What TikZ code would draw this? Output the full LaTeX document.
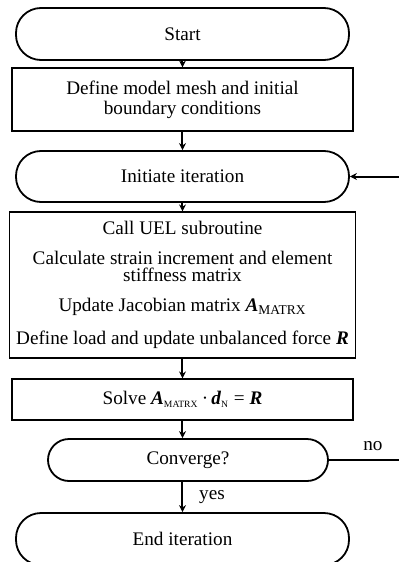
\documentclass[tikz,border=0pt]{standalone}
\usepackage{fontspec}
\setmainfont{Liberation Serif}
\usetikzlibrary{shapes,arrows.meta}
\tikzstyle{term} = [rectangle, draw, line width=0.9pt, rounded corners=12.5pt,
    minimum width=166.5pt, minimum height=26pt, text centered]
\tikzstyle{block} = [rectangle, draw, line width=0.6pt,
    minimum width=170.5pt, align=center]
\tikzstyle{arrow} = [draw, -{Stealth[length=3.5pt,width=3.5pt]}, line width=1pt]
\tikzstyle{line} = [draw, line width=0.8pt]
\newcommand{\bv}[1]{\textbf{\textit{#1}}}

\begin{document}
\begin{tikzpicture}[node distance=32.75pt, font=\fontsize{9.6}{8.5}\selectfont]
    \useasboundingbox (-91.25pt,17pt) rectangle (108.25pt,-264pt);
    % Place nodes
    \node [term] (start) {Start};
    \node [block, below of=start, minimum height=31.5pt,
        font=\fontsize{9.6}{10}\selectfont] (mesh) {Define model mesh and initial\\boundary conditions};
    \node [term, below of=mesh, node distance=38.5pt, minimum height=25.5pt] (init) {Initiate iteration};
    \node [block, below of=init, node distance=54.25pt, minimum height=73pt] (uel) {Call UEL subroutine\\[6.5pt]
        Calculate strain increment and element\\stiffness matrix\\[6.5pt]
        Update Jacobian matrix \bv{A}\textsubscript{MATRX}\\[6.5pt]
        Define load and update unbalanced force \bv{R}};
    \node [block, below of=uel, node distance=57.25pt, minimum height=20.5pt] (solve) {Solve \bv{A}\textsubscript{\fontsize{4.8}{5}\selectfont MATRX}\,·\,\bv{d}\textsubscript{\fontsize{4.8}{5}\selectfont N} = \bv{R}};
    \node [term, below of=solve, node distance=30.25pt, xshift=2.75pt,
        minimum width=140pt, minimum height=21pt, rounded corners=10.5pt] (conv) {Converge?};
    \node [term, below of=conv, node distance=39.5pt, xshift=-2.75pt] (endit) {End iteration};
%
    \path [arrow] (start) -- (mesh);
    \path [arrow] (mesh) -- (init);
    \path [arrow] (init) -- (uel);
    \path [arrow] (uel) -- (solve);
    \path [arrow] (solve.south -| conv.north -| endit.north) -- (endit.north |- conv.north);
    \path [arrow] (endit.north |- conv.south) -- node [right, xshift=4.5pt] {yes} (endit.north);
    \path [arrow] (conv.east) -- ++(40pt,0) node [pos=0.55, above, yshift=1pt] {no} |- (init.east);
\end{tikzpicture}
\end{document}
